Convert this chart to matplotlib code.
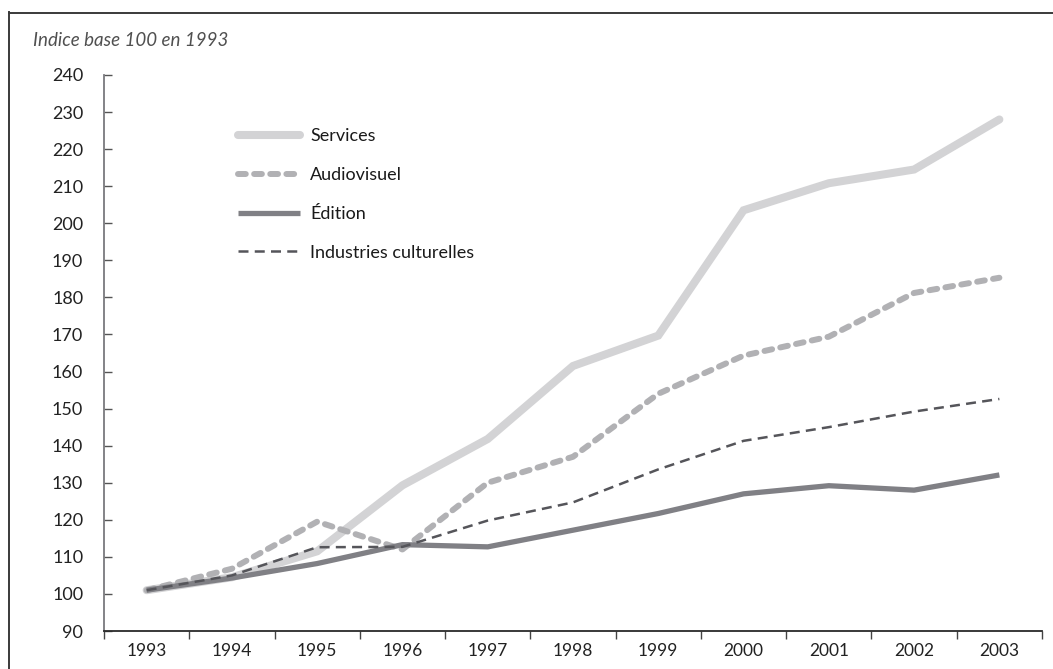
import matplotlib
matplotlib.use("Agg")
import matplotlib.pyplot as plt
from matplotlib.lines import Line2D
from matplotlib.ticker import FixedLocator

years = ["1993", "1994", "1995", "1996", "1997", "1998", "1999", "2000", "2001", "2002", "2003"]
services = [101, 104.5, 111.5, 129.3, 141.8, 161.5, 169.7, 203.5, 210.8, 214.5, 228]
audiovisuel = [101, 106.8, 119.5, 112, 130, 137, 154, 164.3, 169.4, 181.2, 185.3]
edition = [101, 104.3, 108.2, 113.3, 112.7, 117.2, 121.7, 127, 129.2, 128, 132.1]
industries = [101, 105, 112.6, 112.7, 119.8, 124.7, 133.6, 141.3, 145, 149.2, 152.6]
series_labels = ["Services", "Audiovisuel", "\u00c9dition", "Industries culturelles"]
y_ticks = list(range(90, 250, 10))

W, H = 1053, 669
fig = plt.figure(figsize=(W / 100, H / 100), dpi=100)
plt.rcParams['font.family'] = ['Lato', 'DejaVu Sans']

def px(x0, y0, x1, y1):
    return [x0 / W, 1 - y1 / H, (x1 - x0) / W, (y1 - y0) / H]

ax = fig.add_axes(px(104, 75, 1042, 631))
x = list(range(len(years)))

ax.plot(x, services, color="#d3d3d5", lw=5.8, solid_capstyle="round", solid_joinstyle="miter", label=series_labels[0], zorder=2)
ax.plot(x, audiovisuel, color="#b1b1b4", lw=4.3, dashes=(1.3, 1.4), dash_capstyle="round", label=series_labels[1], zorder=3)
ax.plot(x, edition, color="#808085", lw=3.8, solid_capstyle="butt", label=series_labels[2], zorder=4)
ax.plot(x, industries, color="#55555a", lw=1.8, dashes=(4.0, 2.5), label=series_labels[3], zorder=5)

ax.set_xlim(-0.5, len(years) - 0.5)
ax.set_ylim(90, 240)

for s in ["top", "right"]:
    ax.spines[s].set_visible(False)
ax.spines["left"].set_color("#7a7a7e")
ax.spines["left"].set_linewidth(1.3)
ax.spines["bottom"].set_color("#2a2a2a")
ax.spines["bottom"].set_linewidth(1.3)

ax.set_yticks(y_ticks)
ax.set_yticklabels([str(v) for v in y_ticks])
ax.tick_params(axis="y", direction="in", length=6, width=1.0, color="#555555",
               pad=15, labelsize=13, labelcolor="#222222")

ax.set_xticks(x)
ax.set_xticklabels(years)
ax.tick_params(axis="x", which="major", length=0, pad=9, labelsize=12.5, labelcolor="#222222")
ax.xaxis.set_minor_locator(FixedLocator([i - 0.5 for i in range(len(years) + 1)]))
ax.tick_params(axis="x", which="minor", direction="out", length=6, width=1.0, color="#444444")

leg = ax.legend(loc="upper left", bbox_to_anchor=(238 / W, 1 - 128 / H), bbox_transform=fig.transFigure,
                frameon=False, fontsize=13, handlelength=3.44, handletextpad=0.55,
                labelspacing=1.27, borderpad=0, borderaxespad=0)
for t in leg.get_texts():
    t.set_color("#1a1a1a")

fig.text(33 / W, 1 - 40 / H, "Indice base 100 en 1993", style="italic", fontsize=13.5,
         color="#505050", va="center", ha="left")

# frame lines (top and left)
fig.add_artist(Line2D([8.5 / W, 1.0], [1 - 12.5 / H, 1 - 12.5 / H], transform=fig.transFigure, color="#3a3a3a", lw=1.4))
fig.add_artist(Line2D([9 / W, 9 / W], [0, 1 - 12 / H], transform=fig.transFigure, color="#3a3a3a", lw=1.4))

fig.savefig("out.png", dpi=100)
